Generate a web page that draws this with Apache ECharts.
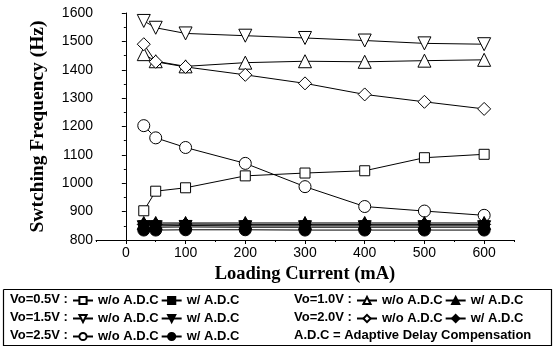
<!DOCTYPE html>
<html>
<head>
<meta charset="utf-8">
<script src="https://cdn.jsdelivr.net/npm/echarts@6/dist/echarts.min.js"></script>
<style>
html,body{margin:0;padding:0;background:#fff;}
#chart{width:557px;height:348px;}
</style>
</head>
<body>
<div id="chart"></div>
<script>
// 负载电流 (mA)
var loadCurrent=[30,50,100,200,300,400,500,600];
var xTicks=[0,100,200,300,400,500,600];
// w/o A.D.C
var v05Without=[903,972,984,1026,1036,1044,1090,1102];
var v10Without=[1455,1430,1412,1425,1430,1428,1432,1435];
var v15Without=[1572,1548,1528,1520,1512,1503,1493,1490];
var v20Without=[1490,1428,1410,1382,1352,1313,1287,1262];
var v25Without=[1203,1160,1126,1070,988,918,902,887];
// w/ A.D.C
var v05With=[850,850,851,850,850,850,850,850];
var v10With=[860,860,860,860,860,860,860,860];
var v15With=[845,845,846,845,845,845,845,845];
var v20With=[855,855,856,855,855,855,855,855];
var v25With=[835,835,836,836,835,835,835,835];

function pairs(arr){
	return loadCurrent.map(function(x,i){return [x,arr[i]];});
}
var triDown='path://M0,0 L10,0 L5,9 Z';
function mkSeries(name,arr,symbol,filled,size){
	return {
		name:name,
		type:'line',
		data:pairs(arr),
		symbol:symbol,
		symbolSize:size,
		showAllSymbol:true,
		lineStyle:{color:'#000',width:1},
		itemStyle:{color:filled?'#000':'#fff',borderColor:'#000',borderWidth:1},
		emphasis:{disabled:true},
		animation:false,
		z:filled?3:2
	};
}
var series=[
	mkSeries('0.5 w/o',v05Without,'rect',false,10),
	mkSeries('0.5 w/',v05With,'rect',true,10),
	mkSeries('1.0 w/o',v10Without,'triangle',false,13),
	mkSeries('1.0 w/',v10With,'triangle',true,13),
	mkSeries('1.5 w/o',v15Without,triDown,false,13),
	mkSeries('1.5 w/',v15With,triDown,true,13),
	mkSeries('2.0 w/o',v20Without,'diamond',false,13),
	mkSeries('2.0 w/',v20With,'diamond',true,13),
	mkSeries('2.5 w/o',v25Without,'circle',false,12),
	mkSeries('2.5 w/',v25With,'circle',true,12)
];
var legendFont={fontFamily:'Liberation Sans',fontWeight:'bold',fontSize:13,color:'#000'};
function mkLegend(names,left,top){
	return {
		data:names,left:left,top:top,padding:0,orient:'horizontal',
		itemWidth:20,itemHeight:9,itemGap:2,
		selectedMode:false,
		textStyle:legendFont,
		formatter:function(n){return n.indexOf('w/o')>=0?'w/o A.D.C':'w/ A.D.C';}
	};
}
var legendRows=[300,318,336];
var txtFont='bold 13px "Liberation Sans"';
var boxStyle={stroke:'#000',lineWidth:1.2};
var myChart=echarts.init(document.getElementById('chart'),null,{renderer:'canvas'});
myChart.setOption({
	animation:false,
	grid:{left:96,right:43,top:13,bottom:108},
	xAxis:[{
		type:'value',min:-50,max:650,
		name:'Loading Current (mA)',nameLocation:'middle',nameGap:23,
		nameTextStyle:{fontFamily:'Liberation Serif',fontWeight:'bold',fontSize:18.5,color:'#000'},
		axisLine:{show:true,lineStyle:{color:'#000',width:1}},
		axisTick:{show:true,inside:false,length:4,customValues:xTicks,lineStyle:{color:'#000'}},
		axisLabel:{customValues:xTicks,fontFamily:'Liberation Sans',fontSize:14,color:'#000',margin:6},
		splitLine:{show:false}
	},{
		type:'value',min:-50,max:650,interval:50,position:'bottom',
		axisLine:{show:false},
		axisTick:{show:true,length:2,lineStyle:{color:'#000'}},
		axisLabel:{show:false},
		splitLine:{show:false}
	}],
	yAxis:{
		type:'value',min:800,max:1600,interval:100,
		name:'Swtching Frequency (Hz)',nameLocation:'middle',nameGap:48,
		nameTextStyle:{fontFamily:'Liberation Serif',fontWeight:'bold',fontSize:19.5,color:'#000'},
		axisLine:{show:true,lineStyle:{color:'#000',width:1}},
		axisTick:{show:true,inside:false,length:4,lineStyle:{color:'#000'}},
		minorTick:{show:true,splitNumber:2,length:2,lineStyle:{color:'#000'}},
		axisLabel:{fontFamily:'Liberation Sans',fontSize:14,color:'#000',margin:3,
			formatter:function(v){return String(v);}},
		splitLine:{show:false}
	},
	legend:[
		mkLegend(['0.5 w/o','0.5 w/'],72,legendRows[0]-6),
		mkLegend(['1.5 w/o','1.5 w/'],72,legendRows[1]-6),
		mkLegend(['2.5 w/o','2.5 w/'],72,legendRows[2]-6),
		mkLegend(['1.0 w/o','1.0 w/'],356,legendRows[0]-6),
		mkLegend(['2.0 w/o','2.0 w/'],356,legendRows[1]-6)
	],
	graphic:[
		{type:'polyline',shape:{points:[[3.5,289.5],[551.5,289.5],[551.5,345.5],[3.5,345.5],[3.5,289.5]]},style:boxStyle,silent:true},
		{type:'text',left:10,top:legendRows[0]-7,style:{text:'Vo=0.5V :',font:txtFont,fill:'#000'}},
		{type:'text',left:10,top:legendRows[1]-7,style:{text:'Vo=1.5V :',font:txtFont,fill:'#000'}},
		{type:'text',left:10,top:legendRows[2]-7,style:{text:'Vo=2.5V :',font:txtFont,fill:'#000'}},
		{type:'text',left:294,top:legendRows[0]-7,style:{text:'Vo=1.0V :',font:txtFont,fill:'#000'}},
		{type:'text',left:294,top:legendRows[1]-7,style:{text:'Vo=2.0V :',font:txtFont,fill:'#000'}},
		{type:'text',left:294,top:legendRows[2]-7,style:{text:'A.D.C = Adaptive Delay Compensation',font:txtFont,fill:'#000'}}
	],
	series:series
});
</script>
</body>
</html>
